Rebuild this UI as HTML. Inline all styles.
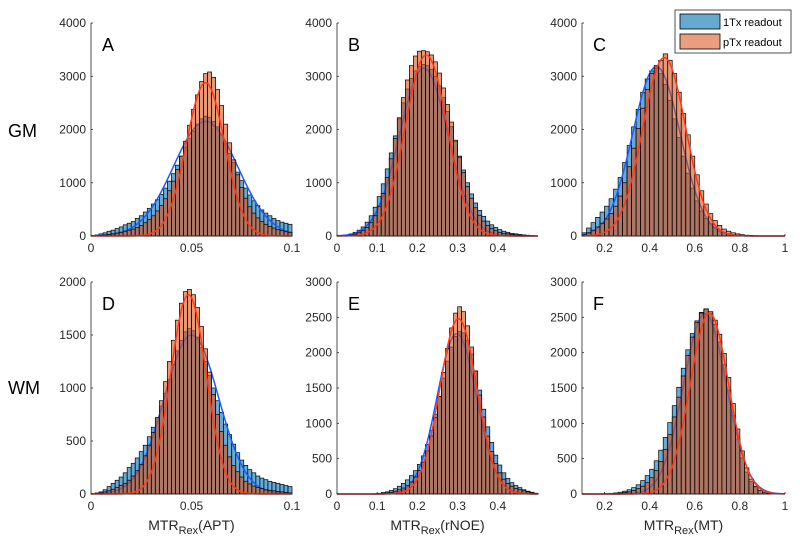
<!DOCTYPE html>
<html><head><meta charset="utf-8"><style>
html,body{margin:0;padding:0;background:#fff;}
svg{display:block;font-family:"Liberation Sans",Arial,sans-serif;}
</style></head><body>
<svg id="fig" width="800" height="550" viewBox="0 0 800 550">
<text x="8" y="137" font-size="18" fill="#000">GM</text>
<text x="8" y="394" font-size="18" fill="#000">WM</text>
<g id="panels"></g>
<g>
<rect x="675" y="10" width="116" height="43" fill="#fff" stroke="#262626" stroke-width="0.8"/>
<rect x="680" y="14" width="40" height="15" fill="rgb(102,170,209)" stroke="#000" stroke-width="0.8"/>
<text x="723" y="26" font-size="11" fill="#000">1Tx readout</text>
<rect x="680" y="34" width="40" height="15" fill="rgb(232,158,127)" stroke="#000" stroke-width="0.8"/>
<text x="723" y="46" font-size="11" fill="#000">pTx readout</text>
</g>
</svg>
<script>
// ---- data ----
const aBlue=[10,20,40,60,90,110,140,170,210,240,270,330,380,450,520,600,680,780,900,1030,1170,1330,1500,1670,1830,1970,2100,2200,2250,2230,2150,2050,1900,1730,1550,1380,1200,1040,900,770,660,570,490,430,380,330,290,260,240,220];
const aOrange=[0,5,10,20,30,40,55,70,90,110,130,160,200,250,310,380,470,570,700,850,1030,1250,1500,1780,2080,2380,2650,2900,3050,3080,2980,2750,2450,2100,1750,1430,1150,910,710,550,430,340,270,220,180,150,120,100,80,70];
const bBlue=[5,10,20,40,70,110,170,260,380,540,740,980,1260,1560,1880,2200,2500,2760,2960,3100,3180,3220,3200,3130,3000,2820,2600,2340,2060,1780,1500,1240,1000,790,620,480,370,280,210,160,120,90,70,50,40,30,20,15,10,0];
const bOrange=[0,5,10,20,35,60,100,160,250,380,560,800,1100,1450,1830,2220,2600,2930,3200,3380,3470,3480,3460,3400,3270,3060,2780,2470,2140,1800,1480,1190,930,710,530,390,280,200,140,100,70,50,40,30,20,15,10,5,5,0];
const cBlue=[60,150,250,350,450,560,700,880,1100,1380,1700,2050,2380,2700,2950,3100,3150,3050,2850,2550,2200,1850,1500,1180,900,660,470,330,230,160,110,70,45,30,20,10,5,0,0,0,0,0,0,0,0];
const cOrange=[20,60,110,170,240,320,420,560,750,1000,1300,1650,2020,2400,2750,3050,3200,3300,3420,3300,3050,2700,2300,1900,1500,1150,850,600,420,290,200,130,90,60,40,25,15,10,5,0,0,0,0,0,0];
const dBlue=[0,10,20,40,70,100,130,160,200,250,290,340,400,460,540,630,720,830,950,1080,1220,1350,1450,1530,1560,1540,1480,1380,1250,1120,1000,880,770,660,560,470,390,320,270,230,200,170,150,135,120,110,100,90,80,70];
const dOrange=[0,5,10,20,30,45,60,80,100,130,170,220,280,360,460,580,720,880,1060,1250,1450,1640,1800,1910,1930,1880,1760,1580,1370,1150,940,750,590,460,350,270,210,160,120,95,75,60,50,40,35,30,25,20,15,10];
const eBlue=[0,0,0,0,0,0,0,0,0,5,10,20,30,50,75,110,150,200,260,330,420,540,700,900,1130,1380,1640,1880,2080,2230,2300,2280,2170,1980,1740,1470,1200,950,730,550,410,300,220,160,120,90,60,40,25,10];
const eOrange=[0,0,0,0,0,0,0,0,0,0,5,10,15,25,40,60,85,120,170,240,330,450,610,820,1080,1380,1720,2060,2350,2560,2650,2580,2380,2080,1740,1400,1090,820,600,430,300,210,150,110,80,60,45,30,20,10];
const fBlue=[0,0,0,0,0,5,10,15,25,40,60,90,130,190,260,350,470,620,800,1010,1250,1510,1780,2040,2270,2450,2570,2610,2560,2400,2150,1830,1470,1110,780,510,310,180,100,50,25,10,0,0,0];
const fOrange=[0,0,0,0,0,0,0,5,10,20,30,50,75,110,160,230,330,460,630,840,1090,1370,1670,1960,2220,2430,2560,2620,2580,2460,2260,1990,1650,1280,920,610,370,210,110,55,25,10,0,0,0];
// gaussian fit parameters [amplitude, mean, sigma]
const aFitBlue=[2150,0.057,0.016], aFitOrange=[2880,0.057,0.0095];
const bFitBlue=[3150,0.216,0.06], bFitOrange=[3400,0.222,0.052];
const cFitBlue=[3180,0.43,0.105], cFitOrange=[3350,0.465,0.095];
const dFitBlue=[1500,0.050,0.0135], dFitOrange=[1880,0.0485,0.0088];
const eFitBlue=[2270,0.298,0.049], eFitOrange=[2480,0.302,0.046];
const fFitBlue=[2550,0.645,0.095], fFitOrange=[2560,0.665,0.085];
const xTicksAPT=[0,0.05,0.1], xTickLabelsAPT=["0","0.05","0.1"];
const xTicksNOE=[0,0.1,0.2,0.3,0.4], xTickLabelsNOE=["0","0.1","0.2","0.3","0.4"];
const xTicksMT=[0.2,0.4,0.6,0.8,1], xTickLabelsMT=["0.2","0.4","0.6","0.8","1"];
const yTicksTop=[0,1000,2000,3000,4000];
const yTicksD=[0,500,1000,1500,2000];
const yTicksEF=[0,500,1000,1500,2000,2500,3000];

const NS="http://www.w3.org/2000/svg";
const root=document.getElementById('panels');
function mk(tag,attrs,parent){const e=document.createElementNS(NS,tag);for(const k in attrs)e.setAttribute(k,attrs[k]);parent.appendChild(e);return e;}

const panels=[
 {id:'a',L:'A',x0:91,y0:236,x1:292,y1:23,xmin:0,xmax:0.1,bw:0.002,bstart:0,ymax:4000,blue:aBlue,orange:aOrange,fb:aFitBlue,fo:aFitOrange,xt:xTicksAPT,xl:xTickLabelsAPT,yt:yTicksTop,lab:null},
 {id:'b',L:'B',x0:337,y0:236,x1:538,y1:23,xmin:0,xmax:0.5,bw:0.01,bstart:0,ymax:4000,blue:bBlue,orange:bOrange,fb:bFitBlue,fo:bFitOrange,xt:xTicksNOE,xl:xTickLabelsNOE,yt:yTicksTop,lab:null},
 {id:'c',L:'C',x0:582,y0:236,x1:785,y1:23,xmin:0.1,xmax:1,bw:0.02,bstart:0.1,ymax:4000,blue:cBlue,orange:cOrange,fb:cFitBlue,fo:cFitOrange,xt:xTicksMT,xl:xTickLabelsMT,yt:yTicksTop,lab:null},
 {id:'d',L:'D',x0:91,y0:494,x1:292,y1:282,xmin:0,xmax:0.1,bw:0.002,bstart:0,ymax:2000,blue:dBlue,orange:dOrange,fb:dFitBlue,fo:dFitOrange,xt:xTicksAPT,xl:xTickLabelsAPT,yt:yTicksD,lab:'APT'},
 {id:'e',L:'E',x0:337,y0:494,x1:538,y1:282,xmin:0,xmax:0.5,bw:0.01,bstart:0,ymax:3000,blue:eBlue,orange:eOrange,fb:eFitBlue,fo:eFitOrange,xt:xTicksNOE,xl:xTickLabelsNOE,yt:yTicksEF,lab:'rNOE'},
 {id:'f',L:'F',x0:582,y0:494,x1:785,y1:282,xmin:0.1,xmax:1,bw:0.02,bstart:0.1,ymax:3000,blue:fBlue,orange:fOrange,fb:fFitBlue,fo:fFitOrange,xt:xTicksMT,xl:xTickLabelsMT,yt:yTicksEF,lab:'MT'}
];

panels.forEach(p=>{
 const g=mk('g',{},root);
 
 
 const sx=v=>p.x0+(v-p.xmin)/(p.xmax-p.xmin)*(p.x1-p.x0);
 const sy=v=>p.y0-v/p.ymax*(p.y0-p.y1);
 function bars(arr,fill,name){
  arr.forEach((v,i)=>{
   if(v<=0)return;
   const a=p.bstart+i*p.bw, b=a+p.bw;
   const r=mk('rect',{x:sx(a),y:sy(v),width:sx(b)-sx(a),height:p.y0-sy(v),fill:fill,'fill-opacity':0.6,stroke:'#000','stroke-width':0.7},g);
   
   
  });
 }
 function fit(par,col,name){
  let d='';const N=200;
  for(let k=0;k<=N;k++){const x=p.xmin+(p.xmax-p.xmin)*k/N;const y=par[0]*Math.exp(-0.5*Math.pow((x-par[1])/par[2],2));d+=(k?'L':'M')+sx(x).toFixed(2)+','+sy(y).toFixed(2);}
  const l=mk('path',{d:d,fill:'none',stroke:col,'stroke-width':1.5},g);
  
  
 }
 bars(p.blue,'rgb(0,114,189)','blue');
 fit(p.fb,'#1a5cff','blue-fit-curve');
 bars(p.orange,'rgb(217,83,25)','orange');
 fit(p.fo,'#ff3a1a','orange-fit-curve');
 // axes
 const ax=mk('path',{d:`M${p.x0},${p.y1}V${p.y0}H${p.x1}`,fill:'none',stroke:'#262626','stroke-width':0.8},g);
 
 
 p.yt.forEach(v=>{
  mk('line',{x1:p.x0,x2:p.x0+2,y1:sy(v),y2:sy(v),stroke:'#262626','stroke-width':0.8},g);
  const t=mk('text',{x:p.x0-5,y:sy(v)+4,'font-size':12,fill:'#262626','text-anchor':'end'},g);
  t.textContent=v;
  
  
 });
 p.xt.forEach((v,i)=>{
  mk('line',{x1:sx(v),x2:sx(v),y1:p.y0,y2:p.y0-2,stroke:'#262626','stroke-width':0.8},g);
  const t=mk('text',{x:sx(v),y:p.y0+16,'font-size':12,fill:'#262626','text-anchor':'middle'},g);
  t.textContent=p.xl[i];
  
  
 });
 const L=mk('text',{x:p.x0+11,y:p.y1+28,'font-size':18,fill:'#000'},g);
 L.textContent=p.L;
 
 
 if(p.lab){
  const t=mk('text',{x:(p.x0+p.x1)/2,y:530,'font-size':14,fill:'#262626','text-anchor':'middle'},g);
  
  
  const s1=mk('tspan',{},t);s1.textContent='MTR';
  const s2=mk('tspan',{'font-size':11,dy:4},t);s2.textContent='Rex';
  const s3=mk('tspan',{dy:-4},t);s3.textContent='('+p.lab+')';
 }
});
</script>
</body></html>
